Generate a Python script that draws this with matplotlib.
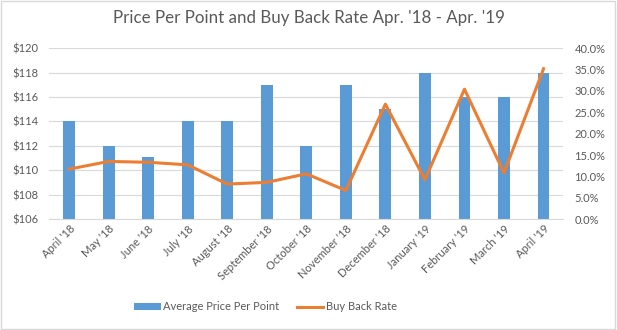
import matplotlib
matplotlib.use("Agg")
import matplotlib.pyplot as plt
import numpy as np
from matplotlib.ticker import FuncFormatter

plt.rcParams['font.family'] = ['Lato', 'DejaVu Sans']

months = ["April '18", "May '18", "June '18", "July '18", "August '18",
          "September '18", "October '18", "November '18", "December '18",
          "January '19", "February '19", "March '19", "April '19"]
price_per_point = [114, 112, 111.1, 114, 114, 117, 112, 117, 115, 118, 116, 116, 118]
buy_back_rate = [11.7, 13.5, 13.3, 12.7, 8.2, 8.6, 10.6, 6.7, 26.9, 9.2, 30.4, 10.8, 35.2]

txt = '#595959'
fig = plt.figure(figsize=(6.17, 3.30), dpi=100)
ax = fig.add_axes([0.08, 0.336, 0.833, 0.518])
x = np.arange(len(months))

ax.bar(x, [p - 106 for p in price_per_point], bottom=106, width=0.3,
       color='#5B9BD5', label='Average Price Per Point', zorder=2)
ax.set_ylim(106, 120)
ax.set_yticks(range(106, 121, 2))
ax.yaxis.set_major_formatter(FuncFormatter(lambda v, p: f'${v:.0f}'))
ax.set_xlim(-0.5, len(months) - 0.5)
ax.set_xticks(x)
ax.set_xticklabels(months, rotation=45, ha='right', rotation_mode='anchor')
ax.grid(axis='y', color='#D9D9D9', linewidth=0.8, zorder=0)
ax.set_axisbelow(True)
for s in ax.spines.values():
    s.set_visible(False)
ax.spines['bottom'].set_visible(True)
ax.spines['bottom'].set_color('#D9D9D9')
ax.tick_params(length=0, labelsize=8, colors=txt)
ax.tick_params(axis='y', pad=8)
ax.tick_params(axis='x', pad=3)

ax2 = ax.twinx()
ax2.plot(x, buy_back_rate, color='#ED7D31', linewidth=2.2, label='Buy Back Rate', zorder=3)
ax2.set_ylim(0, 40)
ax2.set_yticks(range(0, 41, 5))
ax2.yaxis.set_major_formatter(FuncFormatter(lambda v, p: f'{v:.1f}%'))
for s in ax2.spines.values():
    s.set_visible(False)
ax2.tick_params(length=0, labelsize=8, colors=txt, pad=8)

fig.text(0.5, 0.945, "Price Per Point and Buy Back Rate Apr. '18 - Apr. '19",
         ha='center', va='center', fontsize=12.2, color=txt)

h1, l1 = ax.get_legend_handles_labels()
h2, l2 = ax2.get_legend_handles_labels()
fig.legend(h1 + h2, l1 + l2, loc='center', bbox_to_anchor=(0.43, 0.07), ncol=2,
           frameon=False, fontsize=8, labelcolor=txt, handlelength=2.4,
           handleheight=0.55, columnspacing=1.6, handletextpad=0.2)

fig.patches.append(plt.Rectangle((0.002, 0.003), 0.995, 0.993, transform=fig.transFigure,
                                 fill=False, edgecolor='#D9D9D9', linewidth=1))
fig.savefig('out.png', dpi=100)
